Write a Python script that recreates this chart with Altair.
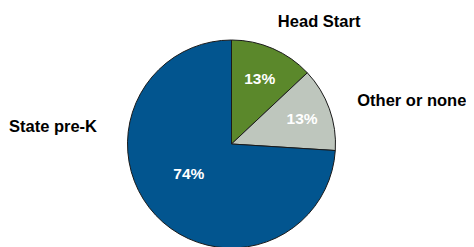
import altair as alt
import pandas as pd

categories = ["Head Start", "Other or none", "State pre-K"]
values = [13, 13, 74]
pct_labels = ["13%", "13%", "74%"]
colors = ["#5B882B", "#BEC6BD", "#02558F"]

df = pd.DataFrame({
    "category": categories,
    "value": values,
    "pct": pct_labels,
    "idx": list(range(len(categories))),
})

CX, CY = 223.5, 136
FONT = "Liberation Sans"

base = alt.Chart(df).transform_stack(
    stack="value", groupby=[], as_=["v0", "v1"], sort=[alt.SortField("idx")]
).transform_calculate(mid="(datum.v0 + datum.v1) / 2")

theta_scale = alt.Scale(domain=[0, 100])

arcs = base.mark_arc(radius=104, stroke="#1a1a1a", strokeWidth=1).encode(
    theta=alt.Theta("v0:Q", scale=theta_scale),
    theta2="v1:Q",
    color=alt.Color("category:N", scale=alt.Scale(domain=categories, range=colors), legend=None),
    x=alt.value(CX), y=alt.value(CY),
)

def txt(cat, text_field, radius, dx=0, dy=0, align="center", color="white", size=15.5):
    return base.transform_filter(alt.datum.category == cat).mark_text(
        font=FONT, fontWeight="bold", fontSize=size, color=color,
        align=align, baseline="middle", dx=dx, dy=dy,
    ).encode(
        theta=alt.Theta("mid:Q", scale=theta_scale),
        radius=alt.value(radius),
        text=alt.Text(text_field),
        x=alt.value(CX), y=alt.value(CY),
    )

layers = [
    arcs,
    txt("Head Start", "pct:N", 71),
    txt("Other or none", "pct:N", 75),
    txt("State pre-K", "pct:N", 53, dx=-4, dy=-6),
    txt("Head Start", "category:N", 130, dx=36, dy=-3, color="black", size=16.5),
    txt("Other or none", "category:N", 140, dx=-6, dy=4, align="left", color="black", size=16.5),
    txt("State pre-K", "category:N", 120, dx=-47, dy=-99, align="right", color="black", size=16.5),
]

chart = alt.layer(*layers).properties(
    width=458, height=239, padding=0, autosize=alt.AutoSizeParams(type="none")
).configure_view(stroke=None)

chart.save("out.html", embed_options={"renderer": "svg", "actions": False})
